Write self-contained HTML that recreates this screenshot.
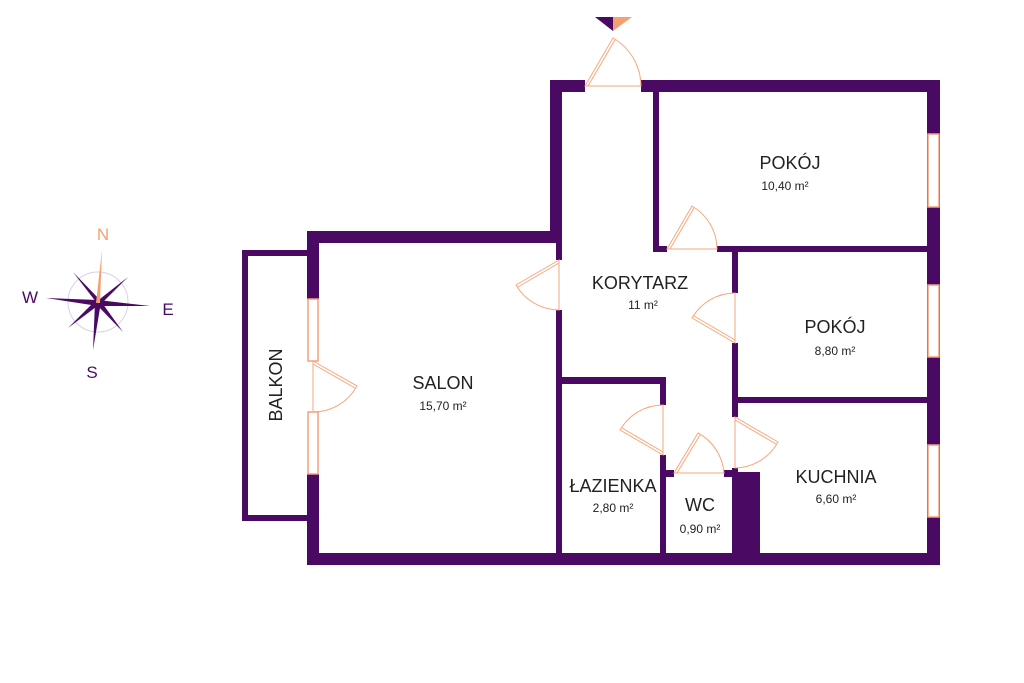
<!DOCTYPE html>
<html><head><meta charset="utf-8"><style>
html,body{margin:0;padding:0;background:#fff;}
svg{display:block;}
text{font-family:"Liberation Sans","DejaVu Sans",sans-serif;fill:#222;}
</style></head><body>
<svg width="1024" height="683" viewBox="0 0 1024 683" xmlns="http://www.w3.org/2000/svg">
<g fill="#4a0a63">
<!-- top wall -->
<rect x="550" y="80" width="35" height="12"/>
<rect x="641" y="80" width="299" height="12"/>
<!-- right wall -->
<rect x="927" y="80" width="13" height="485"/>
<!-- corridor left wall -->
<rect x="550" y="80" width="12" height="163"/>
<rect x="556" y="243" width="6" height="17"/>
<rect x="556" y="310" width="6" height="245"/>
<!-- salon top -->
<rect x="307" y="231" width="255" height="12"/>
<!-- salon left -->
<rect x="307" y="231" width="12" height="68"/>
<rect x="307" y="474" width="12" height="91"/>
<!-- bottom -->
<rect x="307" y="553" width="633" height="12"/>
<!-- balcony -->
<rect x="242" y="250" width="65" height="6"/>
<rect x="242" y="250" width="6" height="271"/>
<rect x="242" y="515" width="65" height="6"/>
<!-- pokoj1 -->
<rect x="653" y="92" width="6" height="160"/>
<rect x="653" y="246" width="14" height="6"/>
<rect x="717" y="246" width="210" height="6"/>
<!-- pokoj2 left -->
<rect x="732" y="252" width="6" height="41"/>
<rect x="732" y="343" width="6" height="74"/>
<rect x="732" y="468" width="6" height="85"/>
<rect x="732" y="472" width="28" height="81"/>
<rect x="738" y="397" width="189" height="6"/>
<!-- lazienka -->
<rect x="562" y="377" width="104" height="7"/>
<rect x="660" y="377" width="6" height="28"/>
<rect x="660" y="455" width="6" height="98"/>
<rect x="660" y="470" width="14" height="7"/>
<rect x="724" y="470" width="14" height="7"/>
</g>
<!-- windows -->
<g fill="#fff" stroke="#f4a07a" stroke-width="1.5">
<rect x="928" y="134" width="11" height="73"/>
<rect x="928" y="285" width="11" height="72"/>
<rect x="928" y="445" width="11" height="72"/>
<rect x="308" y="299" width="10" height="62"/>
<rect x="308" y="412" width="10" height="62"/>
</g>
<!-- doors -->
<g fill="none" stroke="#f6a77c" stroke-width="1">
<path d="M585 86 L613 38 A56 56 0 0 1 641 86 Z"/><path d="M588 86 L615 40"/>
<path d="M667 249 L692 206 A50 50 0 0 1 717 249 Z"/><path d="M670 249 L694 208"/>
<path d="M559 260 L516 285 A50 50 0 0 0 559 310 Z"/><path d="M559 263 L518 287"/>
<path d="M735 343 L692 318 A50 50 0 0 1 735 293 Z"/><path d="M735 340 L694 316"/>
<path d="M313 361 L357 386 A50 50 0 0 1 313 412 Z"/><path d="M313 364 L355 388"/>
<path d="M663 455 L620 430 A50 50 0 0 1 663 405 Z"/><path d="M663 452 L622 428"/>
<path d="M674 473 L698 433 A50 50 0 0 1 724 473 Z"/><path d="M677 473 L700 435"/>
<path d="M735 417 L778 442 A50 50 0 0 1 735 468 Z"/><path d="M735 420 L776 444"/>
</g>
<!-- entry marker -->
<polygon points="595,17 613,17 613,31" fill="#4a0a63"/>
<polygon points="613,17 632,17 613,31" fill="#f4a070"/>
<!-- compass -->
<circle cx="98" cy="302" r="30" fill="none" stroke="#d8d0e8" stroke-width="1"/>
<g fill="#4a0a63">
<polygon points="46,298 98,300 98,306"/>
<polygon points="150,306 98,300 98,306"/>
<polygon points="93,350 95,302 101,302"/>
<polygon points="73,272 96,302 100,300"/>
<polygon points="128,277 96,302 100,305"/>
<polygon points="68,328 96,300 100,304"/>
<polygon points="123,332 96,304 100,300"/>
</g>
<polygon points="102,250 96,303 100,303" fill="#f4a070"/>
<g font-size="17">
<text x="103" y="240" text-anchor="middle" style="fill:#f4a070">N</text>
<text x="30" y="303" text-anchor="middle" style="fill:#4a0a63">W</text>
<text x="168" y="315" text-anchor="middle" style="fill:#4a0a63">E</text>
<text x="92" y="378" text-anchor="middle" style="fill:#4a0a63">S</text>
</g>
<!-- labels -->
<g text-anchor="middle">
<text x="790" y="169" font-size="18">POKÓJ</text><text x="785" y="190" font-size="12">10,40 m²</text>
<text x="640" y="289" font-size="18">KORYTARZ</text><text x="643" y="309" font-size="12">11 m²</text>
<text x="835" y="333" font-size="18">POKÓJ</text><text x="835" y="355" font-size="12">8,80 m²</text>
<text x="443" y="389" font-size="18">SALON</text><text x="443" y="410" font-size="12">15,70 m²</text>
<text x="613" y="492" font-size="18">ŁAZIENKA</text><text x="613" y="512" font-size="12">2,80 m²</text>
<text x="700" y="511" font-size="18">WC</text><text x="700" y="533" font-size="12">0,90 m²</text>
<text x="836" y="483" font-size="18">KUCHNIA</text><text x="836" y="503" font-size="12">6,60 m²</text>
<text transform="translate(282,385) rotate(-90)" font-size="18">BALKON</text>
</g>
</svg>
</body></html>
